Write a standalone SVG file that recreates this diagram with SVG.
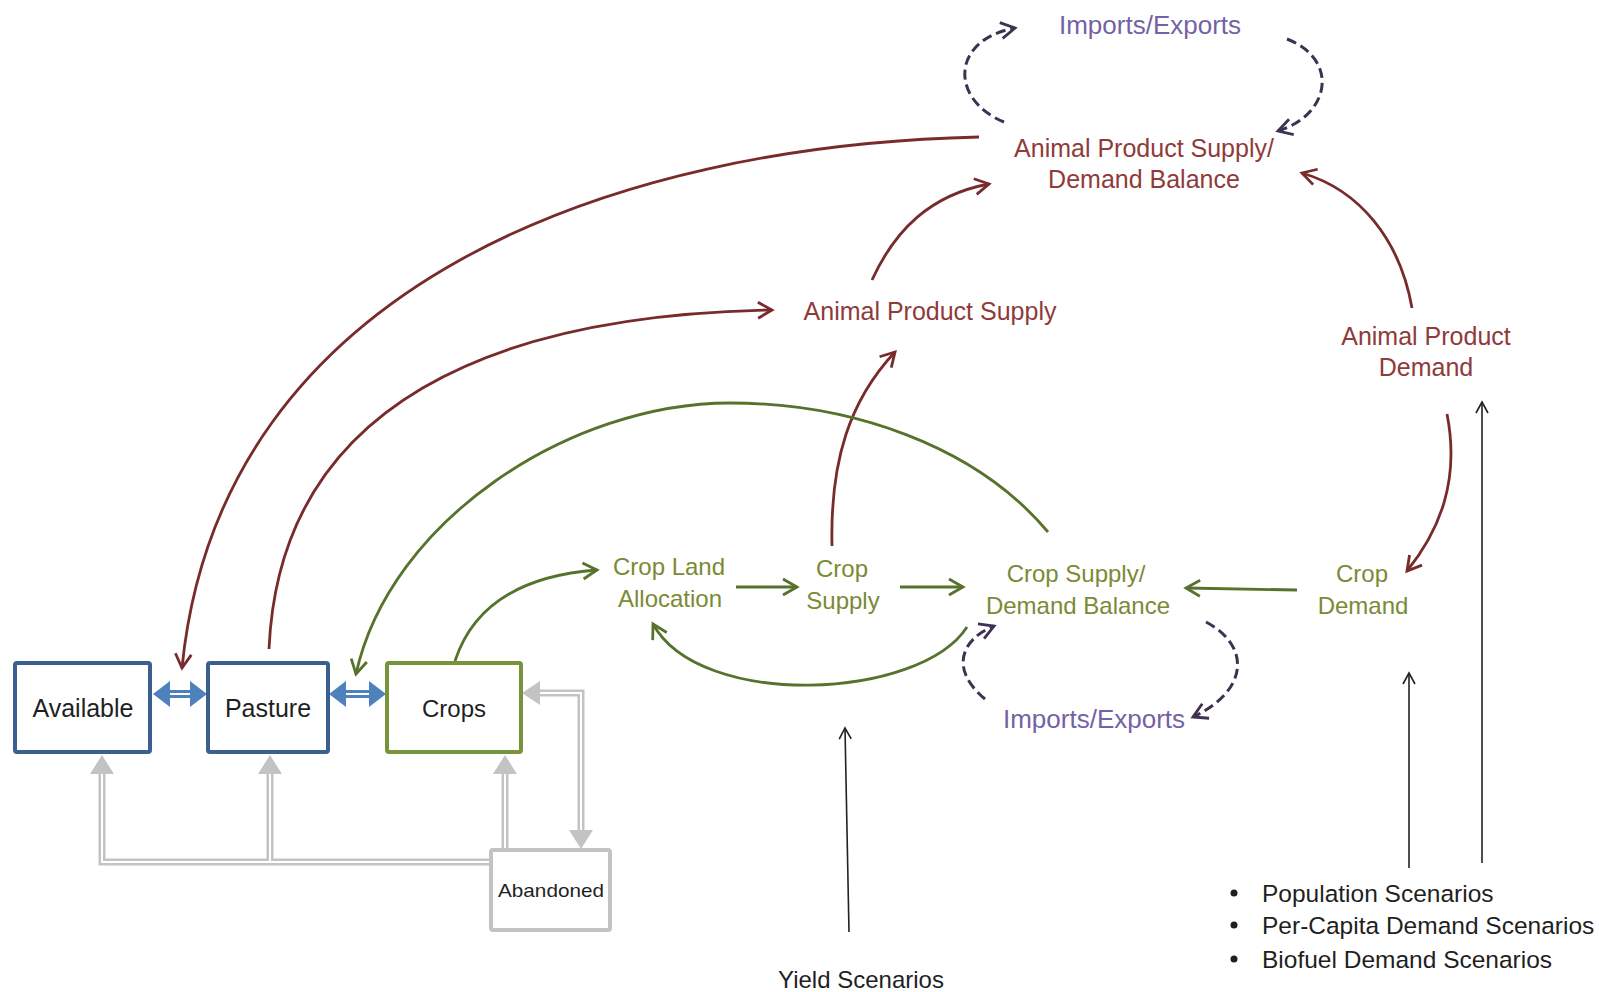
<svg xmlns="http://www.w3.org/2000/svg" width="1599" height="992" viewBox="0 0 1599 992">
<defs>
<style>
text{font-family:"Liberation Sans",Arial,sans-serif;font-size:24px;text-anchor:middle}
.red{fill:#8e3b3a;font-size:25px}.grn{fill:#7b8a35}.pur{fill:#7462a6;font-size:26px}.blk{fill:#1f1f1f}
.lbl{font-size:25px}.bul{font-size:24.5px;text-anchor:start}
.box{fill:#fff;stroke-width:4}
.cr{fill:none;stroke:#772c2b;stroke-width:2.8}
.cg{fill:none;stroke:#56722c;stroke-width:2.8}
.cp{fill:none;stroke:#3e3252;stroke-width:3;stroke-dasharray:10 5}
.ck{fill:none;stroke:#222;stroke-width:1.6}
.gy{fill:none;stroke:#c3c3c3;stroke-width:7}
.gw{fill:none;stroke:#fff;stroke-width:2}
</style>
<marker id="ar" viewBox="0 0 20 20" refX="17" refY="10" markerWidth="20" markerHeight="20" markerUnits="userSpaceOnUse" orient="auto"><path d="M3,2 L17,10 L3,18" fill="none" stroke="#772c2b" stroke-width="2.8"/></marker>
<marker id="ag" viewBox="0 0 20 20" refX="17" refY="10" markerWidth="20" markerHeight="20" markerUnits="userSpaceOnUse" orient="auto"><path d="M3,2 L17,10 L3,18" fill="none" stroke="#56722c" stroke-width="2.8"/></marker>
<marker id="ap" viewBox="0 0 20 20" refX="17" refY="10" markerWidth="20" markerHeight="20" markerUnits="userSpaceOnUse" orient="auto"><path d="M3,2 L17,10 L3,18" fill="none" stroke="#3e3252" stroke-width="2.8"/></marker>
<marker id="ak" viewBox="0 0 16 16" refX="14" refY="8" markerWidth="16" markerHeight="16" markerUnits="userSpaceOnUse" orient="auto"><path d="M3,2 L14,8 L3,14" fill="none" stroke="#222" stroke-width="1.6"/></marker>
</defs>
<rect width="1599" height="992" fill="#fff"/>

<g id="connectors">
  <!-- gray land-use transitions -->
  <polyline class="gy" points="490,862 102,862 102,774"/>
  <polyline class="gy" points="270,862 270,774"/>
  <polyline class="gy" points="505,849 505,774"/>
  <polyline class="gy" points="540,693 581,693 581,830"/>
  <polyline class="gw" points="490,862 102,862 102,774"/>
  <polyline class="gw" points="270,862 270,774"/>
  <polyline class="gw" points="505,849 505,774"/>
  <polyline class="gw" points="540,693 581,693 581,830"/>
  <g fill="#c3c3c3">
    <polygon points="102,755 90,774 114,774"/>
    <polygon points="270,755 258,774 282,774"/>
    <polygon points="505,755 493,774 517,774"/>
    <polygon points="581,849 569,830 593,830"/>
    <polygon points="522,693 540,681 540,705"/>
  </g>
  <!-- blue double arrows -->
  <g>
    <line x1="168" y1="694" x2="192" y2="694" stroke="#4f81bd" stroke-width="8"/>
    <line x1="168" y1="694" x2="192" y2="694" stroke="#fff" stroke-width="2"/>
    <polygon points="153,694 170,681 170,707" fill="#4f81bd"/>
    <polygon points="207,694 190,681 190,707" fill="#4f81bd"/>
    <line x1="344" y1="694" x2="371" y2="694" stroke="#4f81bd" stroke-width="8"/>
    <line x1="344" y1="694" x2="371" y2="694" stroke="#fff" stroke-width="2"/>
    <polygon points="329,694 346,681 346,707" fill="#4f81bd"/>
    <polygon points="386,694 369,681 369,707" fill="#4f81bd"/>
  </g>
  <!-- red -->
  <path class="cr" marker-end="url(#ar)" d="M979,137 C620,145 220,280 182,668"/>
  <path class="cr" marker-end="url(#ar)" d="M269,649 C280,400 500,315 772,310"/>
  <path class="cr" marker-end="url(#ar)" d="M832,546 C830,460 850,400 895,352"/>
  <path class="cr" marker-end="url(#ar)" d="M872,280 C895,230 930,195 989,184"/>
  <path class="cr" marker-end="url(#ar)" d="M1412,308 C1400,240 1360,190 1302,173"/>
  <path class="cr" marker-end="url(#ar)" d="M1447,414 C1460,480 1440,530 1407,571"/>
  <!-- green -->
  <path class="cg" marker-end="url(#ag)" d="M1048,532 C975,445 850,403 730,403 C570,403 390,520 356,674"/>
  <path class="cg" marker-end="url(#ag)" d="M455,661 C475,600 530,575 597,570"/>
  <path class="cg" marker-end="url(#ag)" d="M736,587 L797,587"/>
  <path class="cg" marker-end="url(#ag)" d="M900,587 L963,587"/>
  <path class="cg" marker-end="url(#ag)" d="M1297,590 L1186,588"/>
  <path class="cg" marker-end="url(#ag)" d="M967,627 C920,700 700,710 653,624"/>
  <!-- purple dashed -->
  <path class="cp" marker-end="url(#ap)" d="M1004,122 C950,100 950,40 1015,28"/>
  <path class="cp" marker-end="url(#ap)" d="M1287,39 C1340,60 1330,115 1278,131"/>
  <path class="cp" marker-end="url(#ap)" d="M985,699 C950,670 960,640 994,626"/>
  <path class="cp" marker-end="url(#ap)" d="M1206,622 C1250,645 1250,690 1193,717"/>
  <!-- black scenario inputs -->
  <path class="ck" marker-end="url(#ak)" d="M849,932 L845,728"/>
  <path class="ck" marker-end="url(#ak)" d="M1409,868 L1409,673"/>
  <path class="ck" marker-end="url(#ak)" d="M1482,863 L1482,402"/>
</g>

<g id="available"><rect class="box" x="15" y="663" width="135" height="89" rx="2" stroke="#3b5f8e"/><text class="blk lbl" x="83" y="717">Available</text></g>
<g id="pasture"><rect class="box" x="208" y="663" width="120" height="89" rx="2" stroke="#3b5f8e"/><text class="blk lbl" x="268" y="717">Pasture</text></g>
<g id="crops"><rect class="box" x="387" y="663" width="134" height="89" rx="2" stroke="#77933c"/><text class="blk" x="454" y="717">Crops</text></g>
<g id="abandoned"><rect class="box" x="491" y="850" width="119" height="80" rx="2" stroke="#c3c3c3"/><text class="blk" x="551" y="897" style="font-size:19px" textLength="106" lengthAdjust="spacingAndGlyphs">Abandoned</text></g>

<g id="imports-top"><text class="pur" x="1150" y="34">Imports/Exports</text></g>
<g id="ap-balance"><text class="red" x="1144" y="157">Animal Product Supply/</text><text class="red" x="1144" y="188">Demand Balance</text></g>
<g id="ap-supply"><text class="red" x="930" y="320">Animal Product Supply</text></g>
<g id="ap-demand"><text class="red" x="1426" y="345">Animal Product</text><text class="red" x="1426" y="376">Demand</text></g>
<g id="crop-land"><text class="grn" x="669" y="575">Crop Land</text><text class="grn" x="670" y="607">Allocation</text></g>
<g id="crop-supply"><text class="grn" x="842" y="577">Crop</text><text class="grn" x="843" y="609">Supply</text></g>
<g id="crop-balance"><text class="grn" x="1076" y="582">Crop Supply/</text><text class="grn" x="1078" y="614">Demand Balance</text></g>
<g id="crop-demand"><text class="grn" x="1362" y="582">Crop</text><text class="grn" x="1363" y="614">Demand</text></g>
<g id="imports-low"><text class="pur" x="1094" y="728">Imports/Exports</text></g>
<g id="yield"><text class="blk" x="861" y="988">Yield Scenarios</text></g>
<g id="demand-scenarios">
  <g class="blk"><circle cx="1234" cy="893" r="3.5"/><circle cx="1234" cy="925" r="3.5"/><circle cx="1234" cy="959" r="3.5"/></g>
  <text class="blk bul" x="1262" y="902">Population Scenarios</text>
  <text class="blk bul" x="1262" y="934">Per-Capita Demand Scenarios</text>
  <text class="blk bul" x="1262" y="968">Biofuel Demand Scenarios</text>
</g>
</svg>
